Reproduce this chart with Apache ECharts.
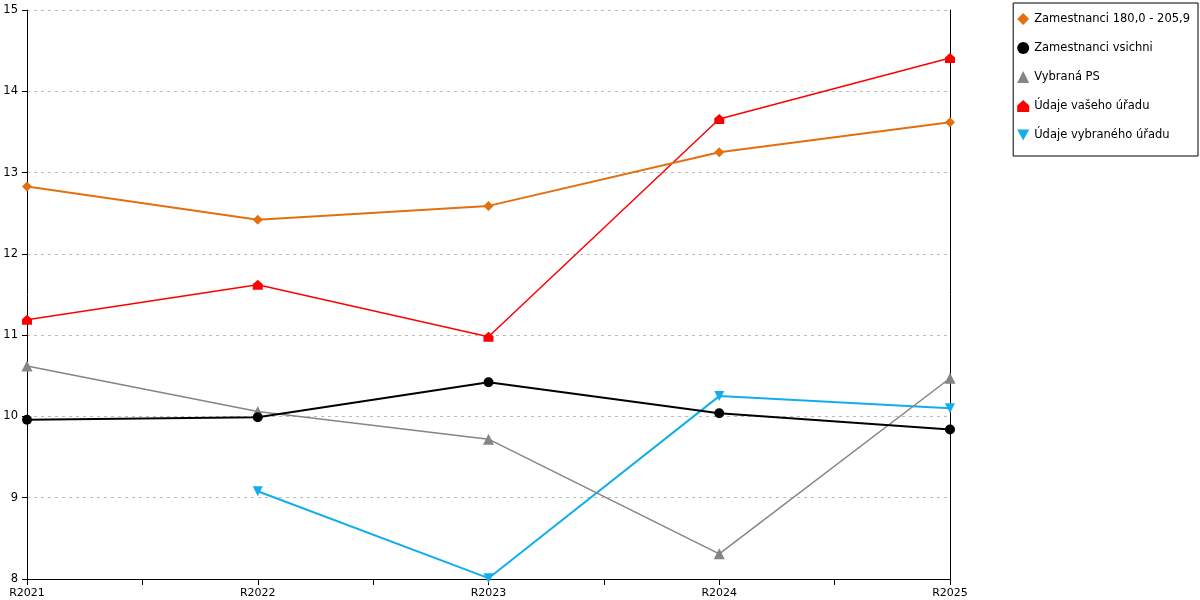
<!DOCTYPE html>
<html><head><meta charset="utf-8">
<script src="https://cdn.jsdelivr.net/npm/echarts@6/dist/echarts.min.js"></script>
<style>html,body{margin:0;padding:0;background:#fff}#c{width:1200px;height:600px}</style>
</head><body><div id="c"></div>
<script>
const categories = ['R2021','R2022','R2023','R2024','R2025'];
const yTicks = {min: 8, max: 15, interval: 1};
const names = ['Zamestnanci 180,0 - 205,9','Zamestnanci vsichni','Vybraná PS','Údaje vašeho úřadu','Údaje vybraného úřadu'];
const zam180 = [12.83, 12.42, 12.59, 13.25, 13.62];
const zamAll = [9.96, 9.99, 10.42, 10.04, 9.84];
const vybranaPS = [10.62, 10.06, 9.72, 8.31, 10.47];
const vasUrad = [11.19, 11.62, 10.98, 13.66, 14.41];
const vybranyUrad = [null, 9.08, 8.01, 10.25, 10.10];

const colors = ['#E3700F','#000000','#858585','#FF0000','#12AEEC'];
const house = 'path://M5,0 L10,4.5 L10,10 L0,10 L0,4.5 Z';
const downTri = 'path://M0,0 L10,0 L5,9 Z';
const symbols = ['diamond','circle','triangle',house,downTri];
const sizes = [10,10,11,10,10];
const widths = [2,2,1.5,1.5,2];
const seriesData = [zam180, zamAll, vybranaPS, vasUrad, vybranyUrad];
const font = 'DejaVu Sans';

const chart = echarts.init(document.getElementById('c'));
chart.setOption({
  animation: false,
  textStyle: {fontFamily: font},
  grid: {left: 27, right: 250, top: 10, bottom: 21, containLabel: false},
  legend: {
    orient: 'vertical', right: 2, top: 3,
    borderColor: '#000', borderWidth: 1, padding: [10, 8, 15, 4],
    itemWidth: 12, itemHeight: 12, itemGap: 17,
    textStyle: {fontFamily: font, fontSize: 11.5, color: '#000'},
    data: names.map((n, i) => ({name: n, icon: symbols[i]}))
  },
  xAxis: {
    type: 'value', min: 0, max: categories.length - 1, interval: 1,
    axisLine: {show: true, onZero: false, lineStyle: {color: '#000', width: 1}},
    axisTick: {show: true, length: 6, lineStyle: {color: '#000'}},
    minorTick: {show: true, splitNumber: 2, length: 6, lineStyle: {color: '#000'}},
    splitLine: {show: false},
    axisLabel: {color: '#000', fontSize: 11, fontFamily: font, margin: 9,
      formatter: v => categories[Math.round(v)] || ''}
  },
  yAxis: [{
    type: 'value', min: yTicks.min, max: yTicks.max, interval: yTicks.interval,
    axisLine: {show: true, lineStyle: {color: '#000', width: 1}},
    axisTick: {show: true, length: 5, lineStyle: {color: '#000'}},
    splitLine: {show: true, lineStyle: {color: '#bbbbbb', type: [3, 4], width: 1}},
    axisLabel: {color: '#000', fontSize: 11.5, fontFamily: font, margin: 9}
  }, {
    type: 'value', position: 'right', min: yTicks.min, max: yTicks.max,
    axisLine: {show: true, lineStyle: {color: '#000', width: 1}},
    axisTick: {show: false}, axisLabel: {show: false}, splitLine: {show: false}
  }],
  series: names.map((n, i) => ({
    name: n, type: 'line',
    data: seriesData[i].map((v, j) => [j, v]),
    symbol: symbols[i], symbolSize: sizes[i], showAllSymbol: true,
    connectNulls: false,
    lineStyle: {color: colors[i], width: widths[i]},
    itemStyle: {color: colors[i], opacity: 1},
    z: 10 - i
  }))
});
</script></body></html>
